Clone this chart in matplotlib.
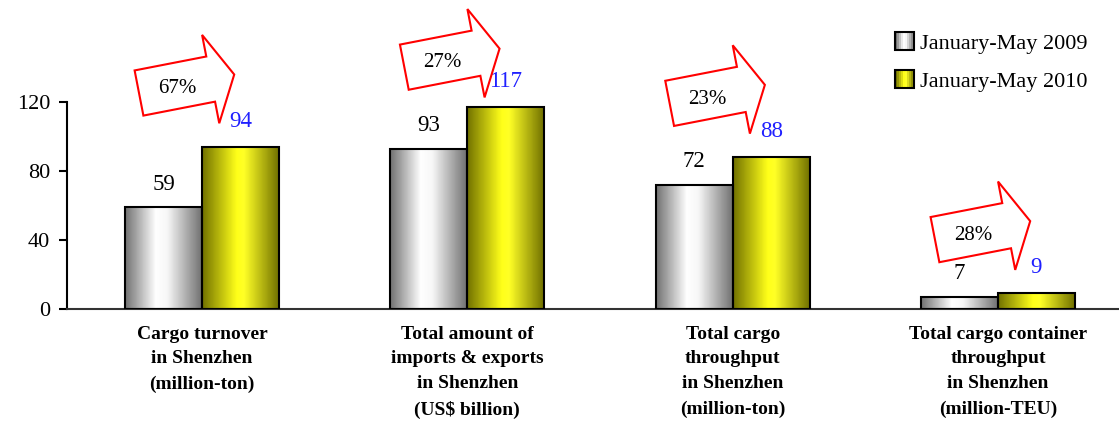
import numpy as np
import matplotlib
matplotlib.use("Agg")
from matplotlib import pyplot as plt
from matplotlib.patches import Rectangle, Polygon
from matplotlib.legend_handler import HandlerBase
from matplotlib.transforms import IdentityTransform

plt.rcParams['font.family'] = ['Liberation Serif', 'DejaVu Serif']

# data
categories = ["Cargo turnover\nin Shenzhen\n(million-ton)",
              "Total amount of\nimports & exports\nin Shenzhen\n(US$ billion)",
              "Total cargo\nthroughput\nin Shenzhen\n(million-ton)",
              "Total cargo container\nthroughput\nin Shenzhen\n(million-TEU)"]
vals_2009 = [59, 93, 72, 7]
vals_2010 = [94, 117, 88, 9]
growth = ["67%", "27%", "23%", "28%"]
series_names = ["January-May 2009", "January-May 2010"]

# gradient colour stops (left -> right)
grey_stops = [(0.0, (0.45, 0.45, 0.45)), (0.4, (1, 1, 1)), (0.55, (0.97, 0.97, 0.97)), (1.0, (0.45, 0.45, 0.45))]
yell_stops = [(0.0, (0.45, 0.45, 0.0)), (0.45, (1, 1, 0.1)), (0.55, (1, 1, 0.15)), (1.0, (0.45, 0.45, 0.0))]


def gradient(stops, n=64):
    t = np.linspace(0, 1, n)
    pos = [s[0] for s in stops]
    rgb = np.array([[np.interp(x, pos, [s[1][c] for s in stops]) for c in range(3)] for x in t])
    return rgb[None, :, :]


W, H = 1119, 432
fig = plt.figure(figsize=(W / 100, H / 100), dpi=100)
ax = fig.add_axes([67 / W, 123 / H, 1 - 67 / W, 207 / H])

x = np.arange(len(categories))
w = 0.29
for vals, stops, off in [(vals_2009, grey_stops, -w / 2), (vals_2010, yell_stops, w / 2)]:
    bars = ax.bar(x + off, vals, w, facecolor="none", edgecolor="black", linewidth=1.5, zorder=3)
    img = gradient(stops)
    for b in bars:
        x0, h = b.get_x(), b.get_height()
        im = ax.imshow(img, extent=(x0, x0 + w, 0, h), aspect="auto", zorder=2)
        im.set_clip_path(b)

ax.set_xlim(-0.509, 3.456)
ax.set_ylim(0, 120)

# value labels
for i in x:
    ax.annotate(str(vals_2009[i]), (i - w / 2, vals_2009[i]), xytext=(0, 9), textcoords="offset points",
                ha="center", va="bottom", fontsize=16.5)
    ax.annotate(str(vals_2010[i]), (i + w / 2, vals_2010[i]), xytext=(0, 11), textcoords="offset points",
                ha="center", va="bottom", fontsize=16.5, color="#2020ff")

# axes styling
ax.spines["top"].set_visible(False)
ax.spines["right"].set_visible(False)
ax.spines["left"].set_linewidth(1.5)
ax.spines["bottom"].set_linewidth(1.5)
ax.spines["bottom"].set_color("#333333")
ax.set_yticks([0, 40, 80, 120])
ax.tick_params(axis="y", labelsize=16, length=6, width=1.5, pad=6)
ax.set_xticks(x)
ax.set_xticklabels(categories, fontsize=14, fontweight="bold", linespacing=1.6)
ax.tick_params(axis="x", length=0, pad=12)

# growth arrows (block arrows drawn in pixel space above each group)
shape = np.array([[-48, -23], [25, -23], [25, -45], [49, 0], [25, 45], [25, 23], [-48, 23]], dtype=float)
ang = np.deg2rad(11)
rot = np.array([[np.cos(ang), -np.sin(ang)], [np.sin(ang), np.cos(ang)]])
for i in x:
    top = max(vals_2009[i], vals_2010[i])
    cx, cy = ax.transData.transform((i - 0.06, top))
    cy = min(cy + 63, H - 58)
    pts = shape @ rot.T + [cx, cy]
    fig.patches.append(Polygon(pts, closed=True, fill=False, edgecolor="red", linewidth=1.5,
                               transform=IdentityTransform(), figure=fig))
    tx, ty = np.array([-10, -3]) @ rot.T + [cx, cy]
    fig.text(tx / W, ty / H, growth[i], ha="center", va="center", fontsize=15)


# legend with gradient squares
class GradHandler(HandlerBase):
    def __init__(self, stops):
        super().__init__()
        self.stops = stops

    def create_artists(self, legend, orig, xd, yd, width, height, fontsize, trans):
        n = 10
        rgb = gradient(self.stops, n)[0]
        sw, sh = 14, 13
        x0 = width - sw
        y0 = (height - sh) / 2 - yd
        arts = []
        for k in range(n):
            arts.append(Rectangle((x0 + k * sw / n, y0), sw / n, sh, facecolor=rgb[k],
                                  edgecolor="none", transform=trans))
        arts.append(Rectangle((x0, y0), sw, sh, facecolor="none", edgecolor="black",
                              linewidth=1.5, transform=trans))
        return arts


h1, h2 = Rectangle((0, 0), 1, 1), Rectangle((0, 0), 1, 1)
leg = fig.legend([h1, h2], series_names, loc="upper left", bbox_to_anchor=(900 / W, (H - 33) / H),
                 frameon=False, fontsize=16, handlelength=0.65, handletextpad=0.25, labelspacing=0.8,
                 borderpad=0, borderaxespad=0,
                 handler_map={h1: GradHandler(grey_stops), h2: GradHandler(yell_stops)})

fig.savefig("out.png", dpi=100)
